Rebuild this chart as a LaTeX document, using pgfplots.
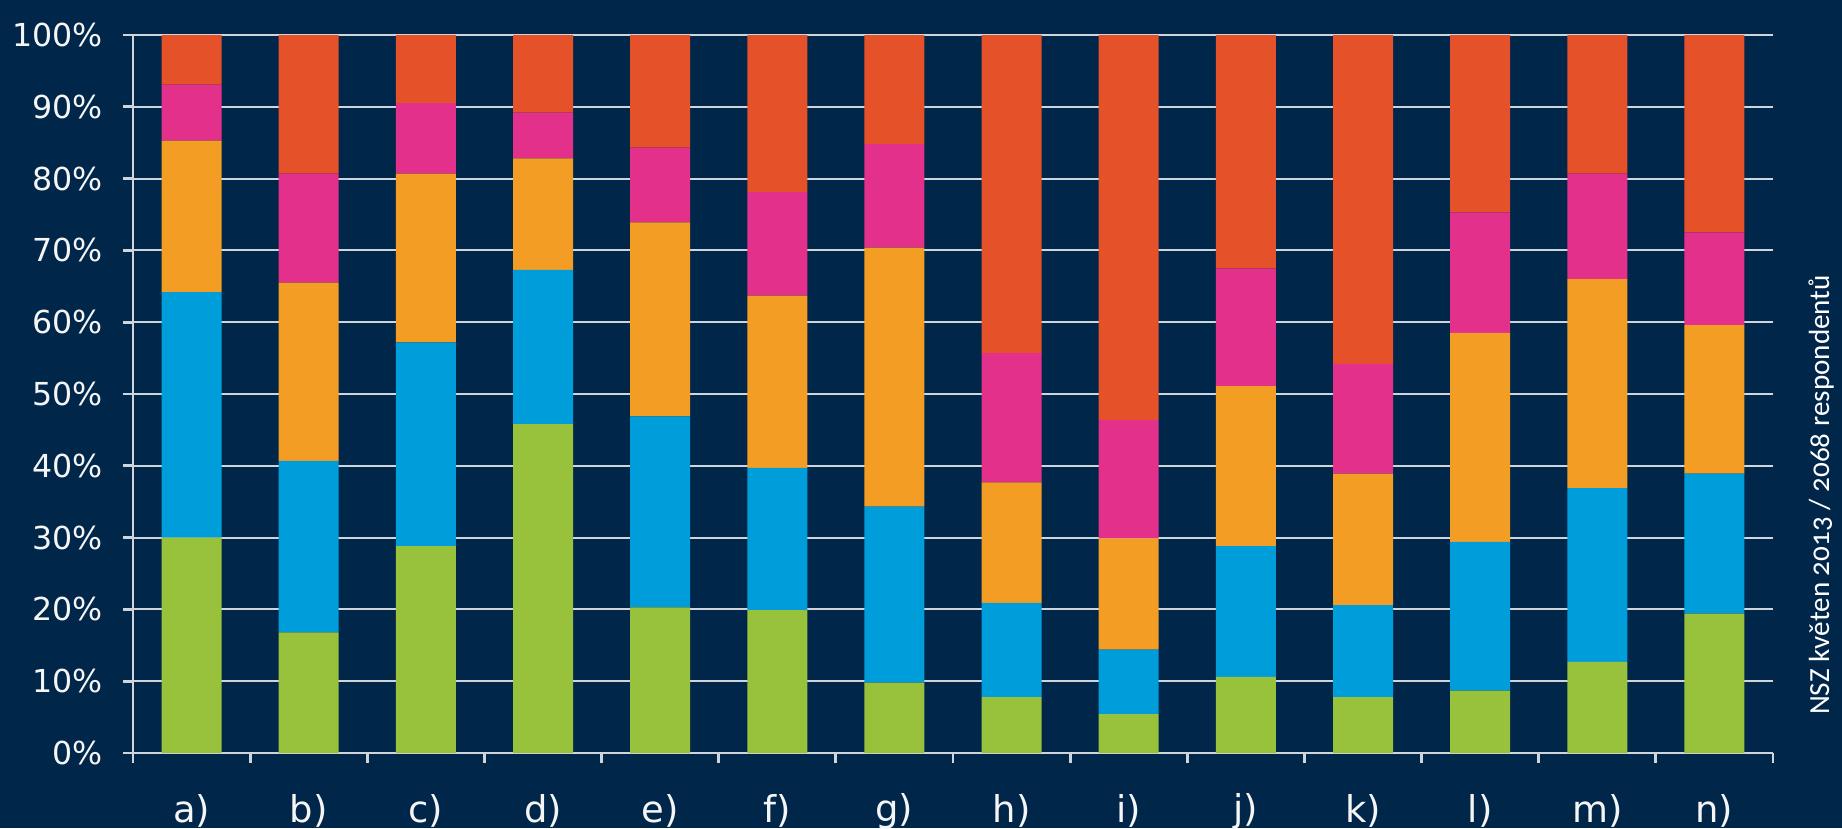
\documentclass[border=0pt]{standalone}
\usepackage{fontspec}
\setmainfont{DejaVu Sans}
\newfontfamily\notefont[Numbers=OldStyle]{Carlito}
\usepackage{pgfplots}
\usepackage{pgfplotstable}
\pgfplotsset{compat=1.18}

\definecolor{bg}{HTML}{00264A}
\definecolor{cgreen}{HTML}{98C13C}
\definecolor{cblue}{HTML}{009DDB}
\definecolor{corange}{HTML}{F39D25}
\definecolor{cpink}{HTML}{E3308B}
\definecolor{cred}{HTML}{E55128}
\definecolor{gridc}{HTML}{D0D5DB}

% shares in %, categories a) .. n) at x = 0 .. 13
\pgfplotstableread{
x  green blue orange pink red
0  30.0  34.2 21.1   7.8  6.9
1  16.8  23.9 24.8  15.2 19.3
2  28.8  28.4 23.5   9.8  9.5
3  45.8  21.5 15.5   6.4 10.8
4  20.3  26.6 27.0  10.4 15.7
5  19.9  19.8 24.0  14.4 21.9
6   9.8  24.5 36.1  14.4 15.2
7   7.8  13.1 16.8  18.0 44.3
8   5.4   9.0 15.5  16.5 53.6
9  10.6  18.2 22.3  16.4 32.5
10  7.8  12.8 18.3  15.3 45.8
11  8.7  20.7 29.1  16.8 24.7
12 12.7  24.2 29.1  14.7 19.3
13 19.4  19.5 20.7  12.9 27.5
}\shares

\begin{document}
\begin{tikzpicture}
\fill[bg] (-1.33,-0.75) rectangle (17.09,7.53);
\begin{axis}[
  at={(0,0)}, anchor=south west,
  scale only axis,
  width=16.4cm, height=7.18cm,
  ybar stacked, bar width=0.6cm,
  xmin=-0.5, xmax=13.5, ymin=0, ymax=100,
  axis lines=left,
  axis line style={-, draw=gridc, line width=0.8pt},
  tick align=outside,
  xtick={0,...,13},
  xticklabels={a),b),c),d),e),f),g),h),i),j),k),l),m),n)},
  major x tick style={draw=none},
  minor xtick={-0.5,0.5,...,13.5},
  minor x tick style={draw=gridc, line width=0.8pt},
  minor tick length=0.1cm,
  ytick={0,10,...,100},
  yticklabels={0\%,10\%,20\%,30\%,40\%,50\%,60\%,70\%,80\%,90\%,100\%},
  major tick length=0.1cm,
  y tick style={draw=gridc, line width=0.8pt},
  ymajorgrids,
  grid style={draw=gridc, line width=0.6pt},
  ticklabel style={text=white!92!gray},
  y tick label style={font=\fontsize{9}{10}\selectfont, xshift=-0.08cm},
  x tick label style={font=\fontsize{10.5}{12}\selectfont, anchor=center, yshift=-0.48cm},
  every axis plot/.append style={draw=none},
]
\addplot[fill=cgreen]  table[x=x, y=green]  {\shares};
\addplot[fill=cblue]   table[x=x, y=blue]   {\shares};
\addplot[fill=corange] table[x=x, y=orange] {\shares};
\addplot[fill=cpink]   table[x=x, y=pink]   {\shares};
\addplot[fill=cred]    table[x=x, y=red]    {\shares};
\end{axis}
\node[rotate=90, text=white, font=\notefont\fontsize{8.3}{10}\selectfont] at (16.88,2.58) {NSZ květen 2013 / 2068 respondentů};
\pgfresetboundingbox
\path[use as bounding box] (-1.33,-0.75) rectangle (17.09,7.53);
\end{tikzpicture}
\end{document}
